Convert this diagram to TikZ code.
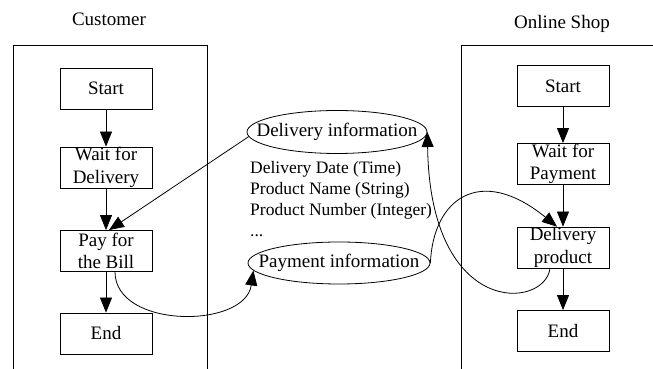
\documentclass[tikz,border=0pt]{standalone}
\usepackage{fontspec}
\setmainfont{Liberation Serif}
\usetikzlibrary{shapes,arrows.meta,positioning,calc}

\begin{document}
\begin{tikzpicture}[x=1pt,y=1pt,
  stepbox/.style={draw,line width=0.8pt,minimum width=92pt,minimum height=41pt,inner sep=0pt,align=center,font=\fontsize{19}{22.5}\selectfont},
  info/.style={draw,ellipse,line width=0.8pt,minimum width=180pt,minimum height=43pt,inner xsep=-20pt,inner ysep=0pt,font=\fontsize{19}{22.5}\selectfont},
  flow/.style={line width=0.8pt,-{Triangle[length=15pt,width=12pt]}}]
\useasboundingbox (0,0) rectangle (653,369);
%Customer
\node[font=\fontsize{19}{22.5}\selectfont] (cust) at (109,350) {Customer};
\draw[line width=0.8pt] (13,0) -- (13,324) -- (207,324) -- (207,0);
\node[stepbox] (cstart) at (106,280.5) {Start};
\node[stepbox] (cwait) at (106,201.5) {Wait for\\Delivery};
\node[stepbox] (cpay) at (106,118) {Pay for\\the Bill};
\node[stepbox] (cend) at (106,35.5) {End};
\draw[flow] (cstart) -- (cwait);
\draw[flow] (cwait) -- (cpay);
\draw[flow] (cpay) -- (cend);
%Online Shop
\node[font=\fontsize{19}{22.5}\selectfont] (shop) at (562,345) {Online Shop};
\draw[line width=0.8pt] (461,0) -- (461,324) -- (653,324);
\node[stepbox] (sstart) at (563,283) {Start};
\node[stepbox] (swait) at (563,205) {Wait for\\Payment};
\node[stepbox] (sdeliv) at (563,121.5) {Delivery\\product};
\node[stepbox] (send) at (563,38) {End};
\draw[flow] (sstart) -- (swait);
\draw[flow] (swait) -- (sdeliv);
\draw[flow] (sdeliv) -- (send);
%Nachrichten
\node[info] (dinfo) at (337,237) {Delivery information};
\node[info,minimum width=182pt,minimum height=42pt] (pinfo) at (339,106) {Payment information};
\node[anchor=north west,inner sep=0pt,align=left,font=\fontsize{17.5}{21}\selectfont] (fields) at (250,208)
  {Delivery Date (Time)\\Product Name (String)\\Product Number (Integer)\\...};
%Verbindungen
\draw[flow] (dinfo.183) -- ([xshift=3pt]cpay.north);
\draw[flow] ([xshift=9pt]cpay.south) .. controls (115,40) and (245,40) .. (pinfo.185);
\draw[flow] (pinfo.east) .. controls (433,170) and (480,205) .. ([xshift=-6pt]sdeliv.north);
\draw[flow] ([xshift=-13pt]sdeliv.south) .. controls (545,60) and (430,50) .. (dinfo.east);
\end{tikzpicture}
\end{document}
